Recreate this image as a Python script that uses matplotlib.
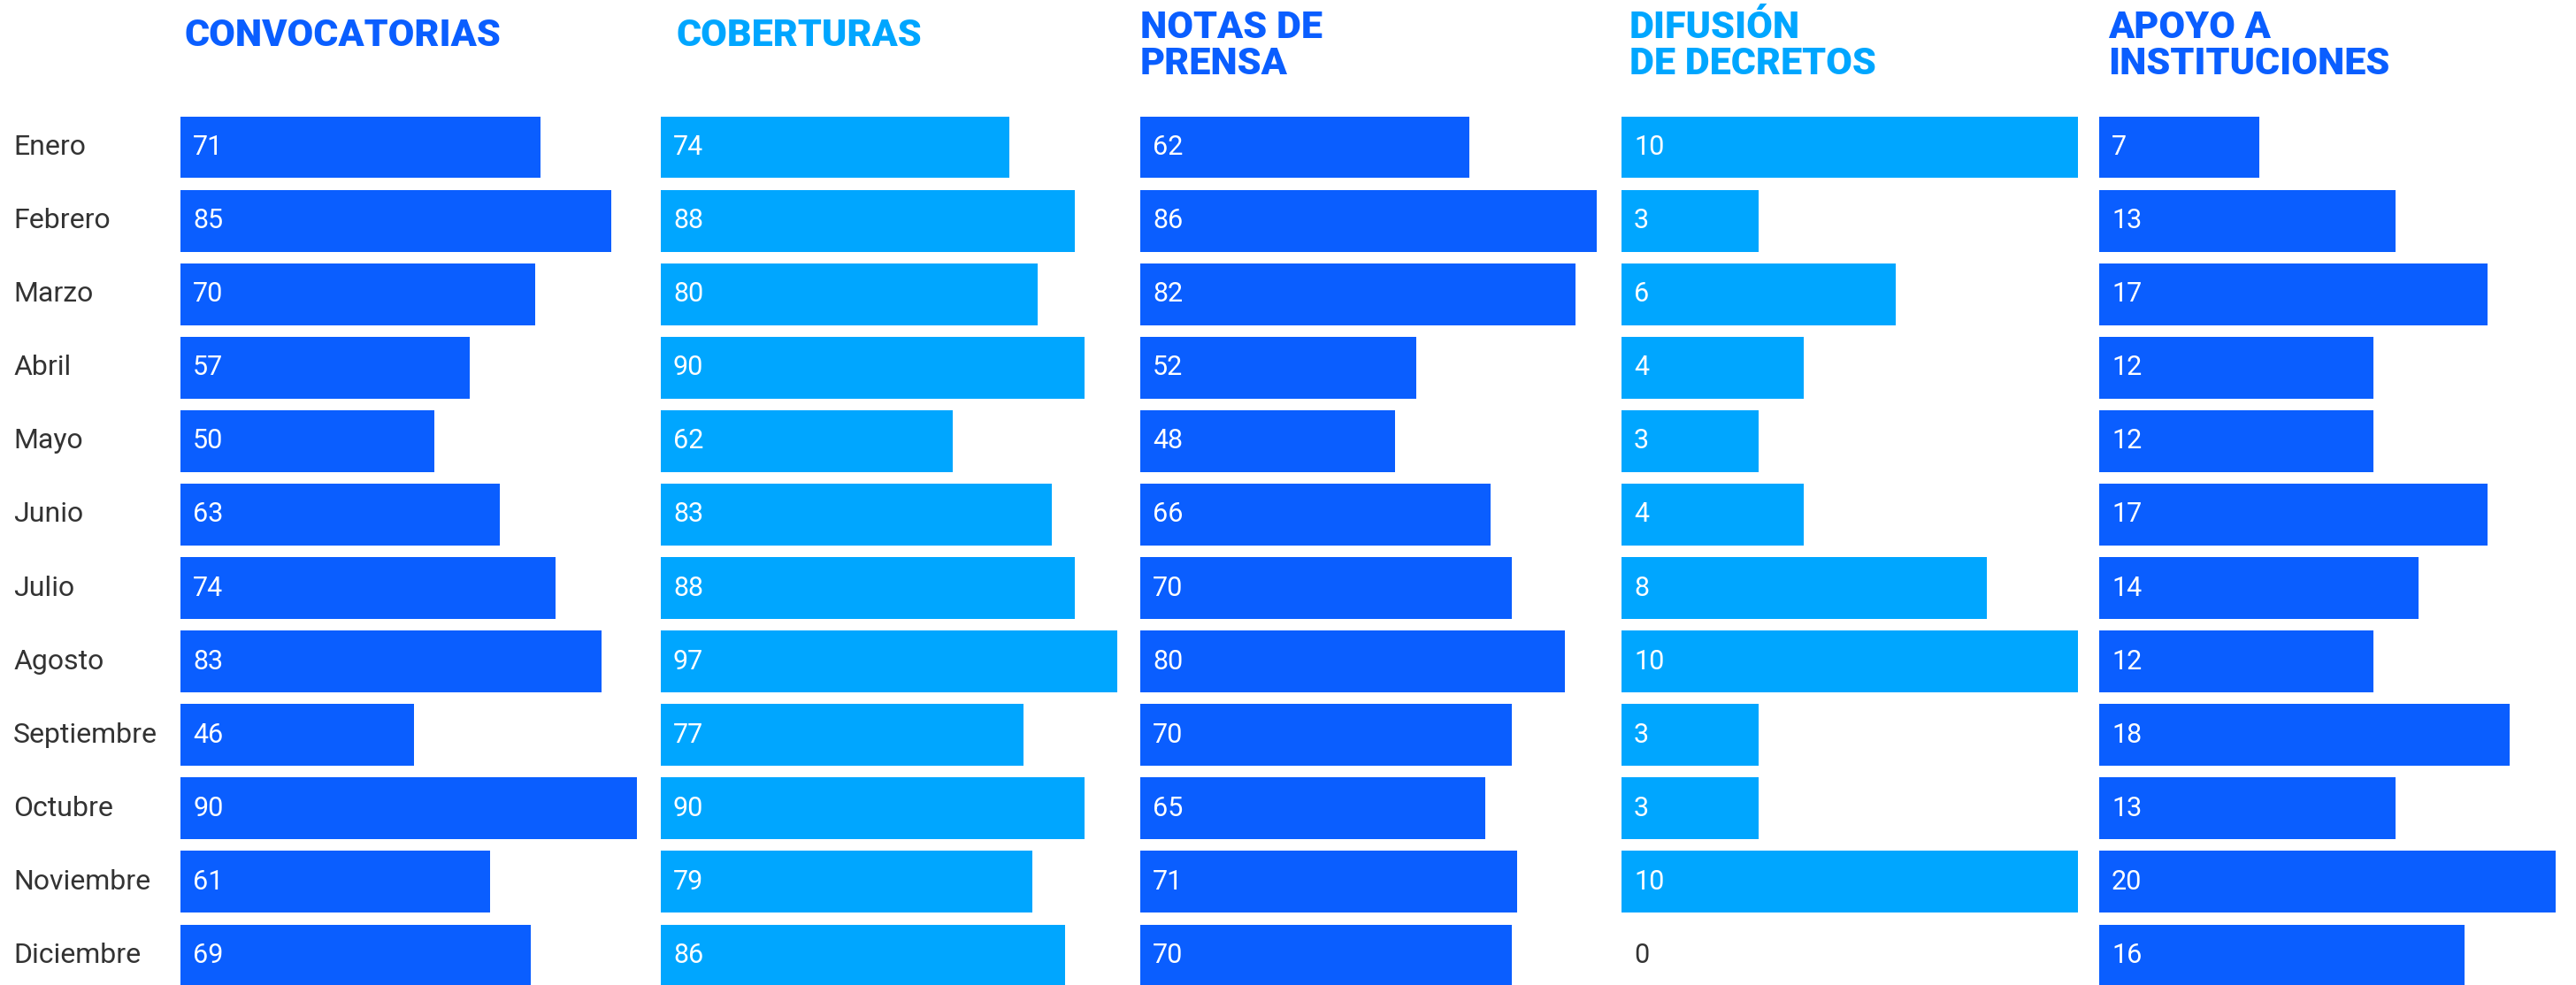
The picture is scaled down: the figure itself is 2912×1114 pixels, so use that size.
import matplotlib
matplotlib.use("Agg")
import matplotlib.pyplot as plt
import matplotlib.transforms as mtransforms

meses = ["Enero", "Febrero", "Marzo", "Abril", "Mayo", "Junio", "Julio",
         "Agosto", "Septiembre", "Octubre", "Noviembre", "Diciembre"]

convocatorias = [71, 85, 70, 57, 50, 63, 74, 83, 46, 90, 61, 69]
coberturas = [74, 88, 80, 90, 62, 83, 88, 97, 77, 90, 79, 86]
notas_prensa = [62, 86, 82, 52, 48, 66, 70, 80, 70, 65, 71, 70]
difusion_decretos = [10, 3, 6, 4, 3, 4, 8, 10, 3, 3, 10, 0]
apoyo_instituciones = [7, 13, 17, 12, 12, 17, 14, 12, 18, 13, 20, 16]

titulos = ["CONVOCATORIAS", "COBERTURAS", "NOTAS DE\nPRENSA",
           "DIFUSIÓN\nDE DECRETOS", "APOYO A\nINSTITUCIONES"]
series = [convocatorias, coberturas, notas_prensa, difusion_decretos, apoyo_instituciones]

AZUL = "#0A5EFF"
CELESTE = "#00A6FF"
colores = [AZUL, CELESTE, AZUL, CELESTE, AZUL]

W, H = 2912, 1114
fig = plt.figure(figsize=(W / 100, H / 100), dpi=100)
fig.patch.set_facecolor("white")

lefts = [204, 747, 1289, 1833, 2373]      # px
title_dx = [4, 18, 0, 9, 10]
panel_w = 516
top_px, bottom_px = 125, 1122

for i, (vals, titulo, color) in enumerate(zip(series, titulos, colores)):
    ax = fig.add_axes([lefts[i] / W, 1 - bottom_px / H, panel_w / W, (bottom_px - top_px) / H])
    y = list(range(len(meses)))
    ax.barh(y, vals, height=0.84, color=color)
    ax.set_xlim(0, max(vals))
    ax.set_ylim(len(meses) - 0.5, -0.5)
    ax.axis("off")
    for yi, v in zip(y, vals):
        col = "white" if v > 0 else "#333333"
        ax.annotate(str(v), (0, yi), xytext=(14, 0), textcoords="offset pixels",
                    va="center", ha="left", color=col, fontsize=22, family="Roboto")
    if i == 0:
        trans = mtransforms.blended_transform_factory(fig.transFigure, ax.transData)
        for yi, m in zip(y, meses):
            ax.text(15 / W, yi, m, transform=trans, va="center", ha="left",
                    color="#333333", fontsize=23, family="Roboto")
    n_lines = titulo.count("\n") + 1
    ty = 1 - (40 if n_lines == 1 else 52) / H
    fig.text((lefts[i] + title_dx[i]) / W, ty, titulo, va="center", ha="left",
             color=color, fontsize=31, fontweight="heavy", family="Roboto",
             linespacing=0.98)

fig.savefig("out.png", dpi=100)
